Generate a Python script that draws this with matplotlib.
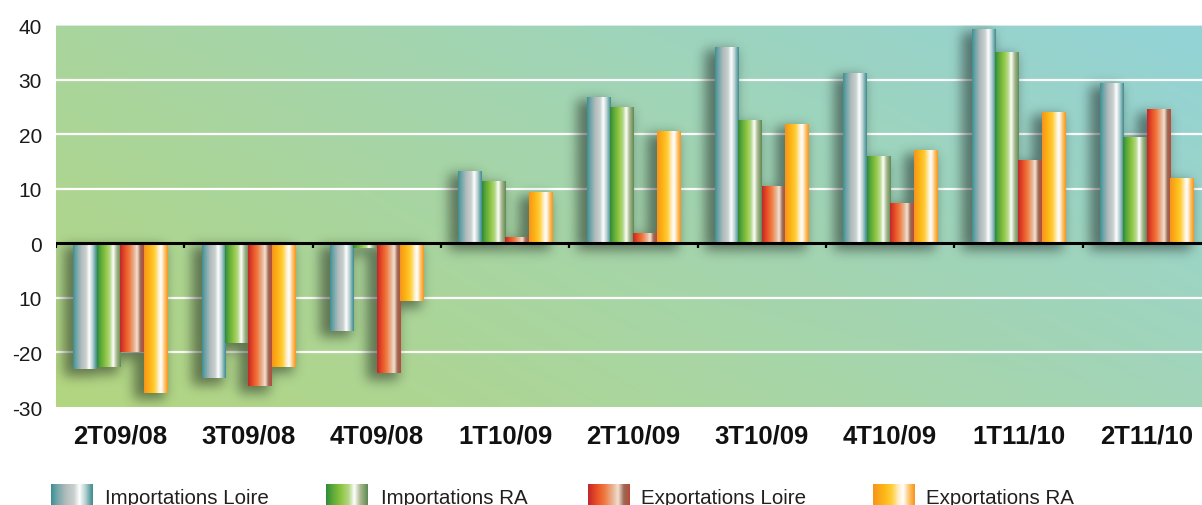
import numpy as np
import matplotlib
matplotlib.use("Agg")
import matplotlib.pyplot as plt
from matplotlib.colors import to_rgb

# data
categories = ["2T09/08", "3T09/08", "4T09/08", "1T10/09", "2T10/09",
              "3T10/09", "4T10/09", "1T11/10", "2T11/10"]
series_names = ["Importations Loire", "Importations RA",
                "Exportations Loire", "Exportations RA"]
imp_loire = [-23.1, -24.7, -16.0, 13.1, 26.7, 35.9, 31.1, 39.2, 29.3]
imp_ra = [-22.7, -18.3, -0.9, 11.3, 24.9, 22.4, 15.8, 35.0, 19.3]
exp_loire = [-20.0, -26.2, -23.8, 1.0, 1.8, 10.3, 7.2, 15.1, 24.4]
exp_ra = [-27.4, -22.6, -10.6, 9.2, 20.4, 21.8, 16.9, 23.9, 11.8]
ytick_values = [40, 30, 20, 10, 0, -10, -20, -30]
ytick_labels = ["40", "30", "20", "10", "0", "10", "-20", "-30"]

# cylinder-like shading, left -> right across each bar
stops = [
    [(0, "#3f8e93"), (0.12, "#6aa3a6"), (0.35, "#b2bcbc"), (0.55, "#c9d0d0"),
     (0.68, "#ffffff"), (0.82, "#b9d2d2"), (0.95, "#5c9da0"), (1, "#3f8e93")],
    [(0, "#2e8b3a"), (0.15, "#5aa83a"), (0.35, "#8cc43e"), (0.55, "#b6d98a"),
     (0.68, "#ffffff"), (0.82, "#a9b98e"), (1, "#5f8a55")],
    [(0, "#c1272d"), (0.2, "#e84e24"), (0.4, "#f07a40"), (0.6, "#e8b89a"),
     (0.72, "#f6e0d0"), (0.86, "#9a6a55"), (1, "#b94a3a")],
    [(0, "#f7941d"), (0.25, "#fdb515"), (0.45, "#ffcf3a"), (0.62, "#fff0d0"),
     (0.72, "#ffffff"), (0.88, "#fdbf60"), (1, "#f7941d")],
]


def shade(st, n=96):
    pos = np.array([s[0] for s in st])
    cols = np.array([to_rgb(s[1]) for s in st])
    t = np.linspace(0, 1, n)
    img = np.stack([np.interp(t, pos, cols[:, c]) for c in range(3)], axis=-1)
    return img[np.newaxis, :, :]


def blur(a, sigma):
    r = int(3 * sigma)
    k = np.exp(-0.5 * (np.arange(-r, r + 1) / sigma) ** 2)
    k /= k.sum()
    a = np.apply_along_axis(lambda v: np.convolve(v, k, mode="same"), 1, a)
    a = np.apply_along_axis(lambda v: np.convolve(v, k, mode="same"), 0, a)
    return a


W, H = 1202, 506
fig = plt.figure(figsize=(W / 100, H / 100), dpi=100)
ax_w = 1155
ax = fig.add_axes([56 / W, (H - 408) / H, ax_w / W, 382 / H])

xmin, xmax, ymin, ymax = -0.5, 8.5, -30, 40

# background gradient
ny, nx = 100, 300
u = np.linspace(0, 1, nx)[np.newaxis, :, np.newaxis]
v = np.linspace(0, 1, ny)[:, np.newaxis, np.newaxis]
bl, tl = np.array(to_rgb("#b3d680")), np.array(to_rgb("#a9d59e"))
br, tr = np.array(to_rgb("#a2d5b9")), np.array(to_rgb("#93d3d8"))
bg = (1 - u) * (1 - v) * bl + (1 - u) * v * tl + u * (1 - v) * br + u * v * tr
ax.imshow(bg, extent=(xmin, xmax, ymin, ymax), origin="lower",
          aspect="auto", zorder=0, interpolation="bilinear")

# grid lines
for yv in [10, 20, 30, -10, -20]:
    ax.axhline(yv, color="white", lw=1.6, zorder=1)
ax.axhline(40, color="#e6f3f0", lw=1.2, zorder=1)

x = np.arange(len(categories))
bw = 0.183
all_vals = [imp_loire, imp_ra, exp_loire, exp_ra]
patches = []
for i, vals in enumerate(all_vals):
    bars = ax.bar(x + (i - 1.5) * bw, vals, width=bw, color=stops[i][2][1],
                  zorder=3, linewidth=0)
    img = shade(stops[i])
    for p in bars:
        x0, y0 = p.get_xy()
        w, h = p.get_width(), p.get_height()
        ax.imshow(img, extent=(x0, x0 + w, min(y0, y0 + h), max(y0, y0 + h)),
                  aspect="auto", zorder=3.1, interpolation="bilinear")
        patches.append((x0, y0, w, h))

# soft drop shadows
sx, sy = ax_w, 382
mask = np.zeros((sy, sx))
px = lambda xv: (xv - xmin) / (xmax - xmin) * sx
py = lambda yv: (yv - ymin) / (ymax - ymin) * sy
for (x0, y0, w, h) in patches:
    a0, a1 = int(px(x0) - 9), int(px(x0 + w) - 2)
    b0, b1 = sorted([py(y0), py(y0 + h)])
    b0, b1 = int(b0 - 6), int(b1 - 2)
    mask[max(b0, 0):max(b1, 0), max(a0, 0):a1] = 1
mask = blur(mask, 6) * 0.45
sh = np.zeros((sy, sx, 4))
sh[..., 3] = mask
ax.imshow(sh, extent=(xmin, xmax, ymin, ymax), origin="lower",
          aspect="auto", zorder=2, interpolation="bilinear")

# zero line and group ticks
ax.axhline(0, color="black", lw=2.2, zorder=5)
ax.vlines(np.arange(len(categories)) - 0.5, -0.9, 0, color="black",
          lw=1.6, zorder=5)

ax.set_xlim(xmin, xmax)
ax.set_ylim(ymin, ymax)
for s in ax.spines.values():
    s.set_visible(False)
ax.set_xticks(x)
ax.set_xticklabels(categories, fontsize=18.5, fontweight="bold",
                   family=["Liberation Sans", "DejaVu Sans"], color="#111111")
ax.set_yticks(ytick_values)
ax.set_yticklabels(ytick_labels, fontsize=15,
                   family=["Liberation Sans", "DejaVu Sans"], color="#1a1a1a")
ax.tick_params(axis="x", length=0, pad=12)
ax.tick_params(axis="y", length=0, pad=10)

# legend along the bottom edge
lax = fig.add_axes([0, 0, 1, 40 / H])
lax.set_xlim(0, W)
lax.set_ylim(0, 40)
lax.axis("off")
sw_x = [51, 326, 588, 873]
txt_x = [105, 381, 641, 926]
for i, name in enumerate(series_names):
    lax.imshow(shade(stops[i]), extent=(sw_x[i], sw_x[i] + 42, 0, 21),
               aspect="auto", interpolation="bilinear")
    lax.text(txt_x[i], 2.3, name, fontsize=14.8, va="baseline", ha="left",
             family=["Liberation Sans", "DejaVu Sans"], color="#231f20")
lax.set_xlim(0, W)
lax.set_ylim(0, 40)

fig.savefig("out.png", dpi=100)
